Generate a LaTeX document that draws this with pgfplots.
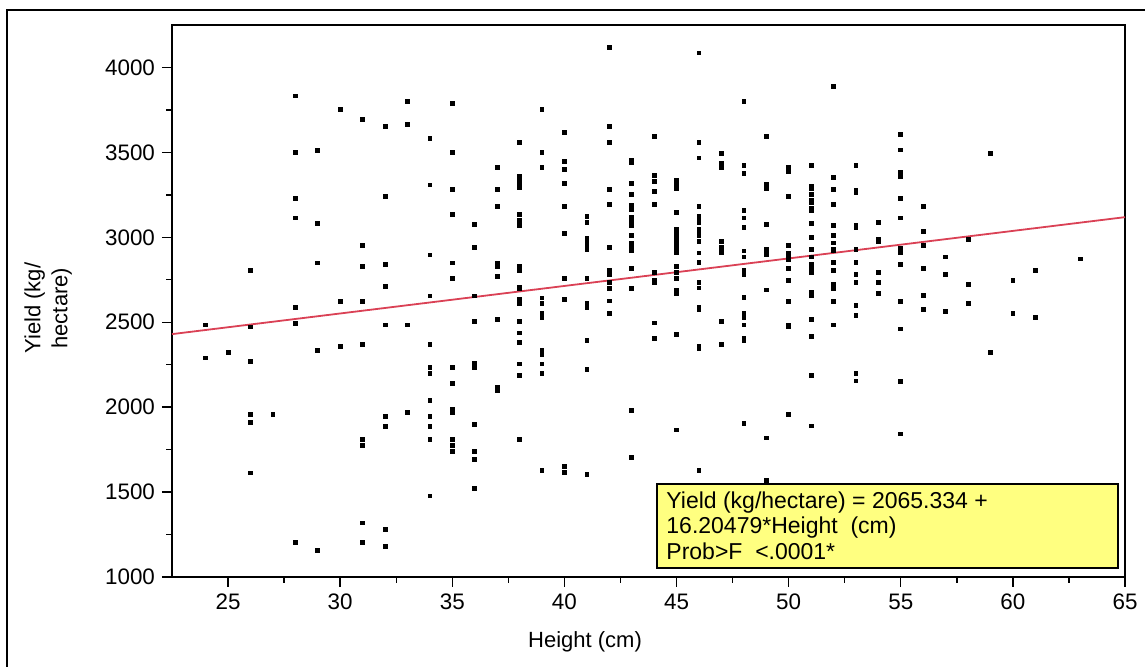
\documentclass[border=0pt]{standalone}
\usepackage{pgfplots}
\pgfplotsset{compat=1.18}
\usepackage{fontspec}
\setmainfont{Liberation Sans}
\definecolor{fitred}{RGB}{218,65,85}
\definecolor{boxyellow}{RGB}{255,255,128}
\pgfplotstableread{
x y
24 2484
24 2290
25 2323
26 2804
26 2472
26 2267
26 1957
26 1912
26 1613
27 1957
28 3833
28 3502
28 3227
28 3114
28 2586
28 2494
28 1202
29 3513
29 3080
29 2849
29 2335
29 1157
30 3753
30 2622
30 2359
31 3696
31 2953
31 2827
31 2622
31 2370
31 1808
31 1775
31 1318
31 1202
32 3651
32 3239
32 2839
32 2712
32 2484
32 1945
32 1888
32 1282
32 1178
33 3800
33 3663
33 2484
33 1969
34 3582
34 3308
34 2896
34 2655
34 2370
34 2233
34 2198
34 2039
34 1945
34 1888
34 1808
34 1478
35 3788
35 3502
35 3284
35 3135
35 2849
35 2759
35 2233
35 2139
35 1990
35 1969
35 1808
35 1775
35 1741
36 3078
36 2941
36 2655
36 2506
36 2257
36 2233
36 1900
36 1741
36 1694
36 1523
37 3410
37 3284
37 3180
37 2845
37 2831
37 2771
37 2517
37 2119
37 2096
38 3559
38 3359
38 3345
38 3333
38 3322
38 3296
38 3137
38 3100
38 3086
38 3072
38 2831
38 2820
38 2806
38 2708
38 2696
38 2633
38 2621
38 2610
38 2506
38 2437
38 2380
38 2255
38 2186
38 1808
39 3753
39 3502
39 3410
39 2643
39 2610
39 2553
39 2541
39 2529
39 2337
39 2323
39 2312
39 2255
39 2198
39 1627
40 3616
40 3445
40 3398
40 3318
40 3180
40 3021
40 2759
40 2635
40 1651
40 1615
41 3125
41 3090
41 2992
41 2980
41 2967
41 2953
41 2941
41 2929
41 2759
41 2610
41 2598
41 2586
41 2392
41 2221
41 1604
42 4119
42 3651
42 3559
42 3284
42 3194
42 2941
42 2804
42 2792
42 2780
42 2735
42 2700
42 2626
42 2553
43 3455
43 3443
43 3318
43 3251
43 3186
43 3174
43 3163
43 3116
43 3104
43 3092
43 3080
43 3069
43 3010
43 2965
43 2933
43 2921
43 2816
43 2700
43 1980
43 1706
44 3592
44 3365
44 3329
44 3272
44 3194
44 2794
44 2747
44 2735
44 2496
44 2404
45 3333
45 3322
45 3310
45 3298
45 3286
45 3147
45 3047
45 3035
45 3023
45 3012
45 2982
45 2970
45 2959
45 2947
45 2935
45 2908
45 2827
45 2792
45 2759
45 2690
45 2678
45 2667
45 2427
45 1866
46 4086
46 3559
46 3467
46 3182
46 3125
46 3114
46 3102
46 3090
46 3045
46 3033
46 3021
46 3010
46 2976
46 2908
46 2851
46 2735
46 2702
46 2586
46 2574
46 2359
46 2347
46 1627
47 3492
47 3433
47 3421
47 3410
47 2976
47 2943
47 2931
47 2920
47 2908
47 2506
47 2370
48 3800
48 3424
48 3376
48 3159
48 3114
48 3057
48 2920
48 2884
48 2804
48 2792
48 2780
48 2644
48 2553
48 2541
48 2529
48 2484
48 2404
48 2392
48 1902
49 3592
49 3310
49 3298
49 3286
49 3078
49 2931
49 2920
49 2908
49 2896
49 2690
49 1819
49 1570
50 3410
50 3398
50 3386
50 3239
50 2953
50 2908
50 2896
50 2884
50 2872
50 2816
50 2747
50 2621
50 2484
50 2472
50 1957
51 3423
51 3298
51 3286
51 3251
51 3218
51 3206
51 3171
51 3159
51 3080
51 3000
51 2931
51 2884
51 2839
51 2827
51 2816
51 2804
51 2792
51 2678
51 2667
51 2655
51 2517
51 2415
51 2188
51 1890
52 3890
52 3355
52 3284
52 3194
52 3069
52 3012
52 2967
52 2931
52 2920
52 2851
52 2806
52 2724
52 2712
52 2700
52 2621
52 2484
53 3423
53 3274
53 3263
53 3069
53 3057
53 2931
53 2851
53 2782
53 2735
53 2598
53 2541
53 2200
53 2155
54 3090
54 2988
54 2976
54 2794
54 2735
54 2669
55 3604
55 3514
55 3380
55 3369
55 3357
55 3229
55 3114
55 2933
55 2921
55 2910
55 2839
55 2621
55 2461
55 2153
55 1843
56 3182
56 3035
56 2953
56 2816
56 2657
56 2574
57 2884
57 2782
57 2564
58 2988
58 2724
58 2610
59 3492
59 2323
60 2747
60 2553
61 2806
61 2529
63 2873
}\yielddata
\begin{document}
\begin{tikzpicture}
\useasboundingbox (0,0) rectangle (572.5pt,333.5pt);
\draw[line width=1pt] (3.5pt,0) -- (3.5pt,328.5pt) -- (572.5pt,328.5pt);
\begin{axis}[
  at={(86pt,45pt)}, anchor=south west,
  scale only axis, width=476.5pt, height=276pt,
  xmin=22.5, xmax=65, ymin=1000, ymax=4250,
  xtick={25,30,...,65}, ytick={1000,1500,...,4000},
  minor x tick num=1, minor y tick num=1,
  tick pos=left, tick align=outside,
  major tick length=5pt, minor tick length=2.8pt,
  every tick/.style={black, line width=0.7pt},
  axis line style={line width=0.9pt},
  scaled ticks=false,
  /pgf/number format/1000 sep={},
  /pgf/number format/assume math mode=true,
  tick label style={font=\fontsize{11.2}{13}\selectfont},
  label style={font=\fontsize{11}{13.5}\selectfont},
  xlabel={Height (cm)},
  ylabel={Yield (kg/\\hectare)},
  xlabel style={at={(axis description cs:0.4334,-0.118)}, anchor=center},
  ylabel style={at={(axis description cs:-0.130,0.487)}, anchor=center, align=center, rotate=0},
  clip=false,
]
\addplot[only marks, mark=square*, mark size=0.95pt, black] table[x=x,y=y] {\yielddata};
\addplot[fitred, line width=0.9pt, no marks] coordinates {(22.5,2429.94) (65,3118.65)};
\draw[line width=0.9pt, fill=boxyellow] (axis cs:44.13,1053) rectangle (axis cs:64.69,1547);
\node[anchor=north west, align=left, inner xsep=4.5pt, inner ysep=3.5pt,
      font=\fontsize{11.5}{12.9}\selectfont]
  at (axis cs:44.13,1547) {Yield (kg/hectare) = 2065.334 +\\16.20479*Height\ \ (cm)\\Prob>F\ \ <.0001*};
\end{axis}
\end{tikzpicture}
\end{document}
